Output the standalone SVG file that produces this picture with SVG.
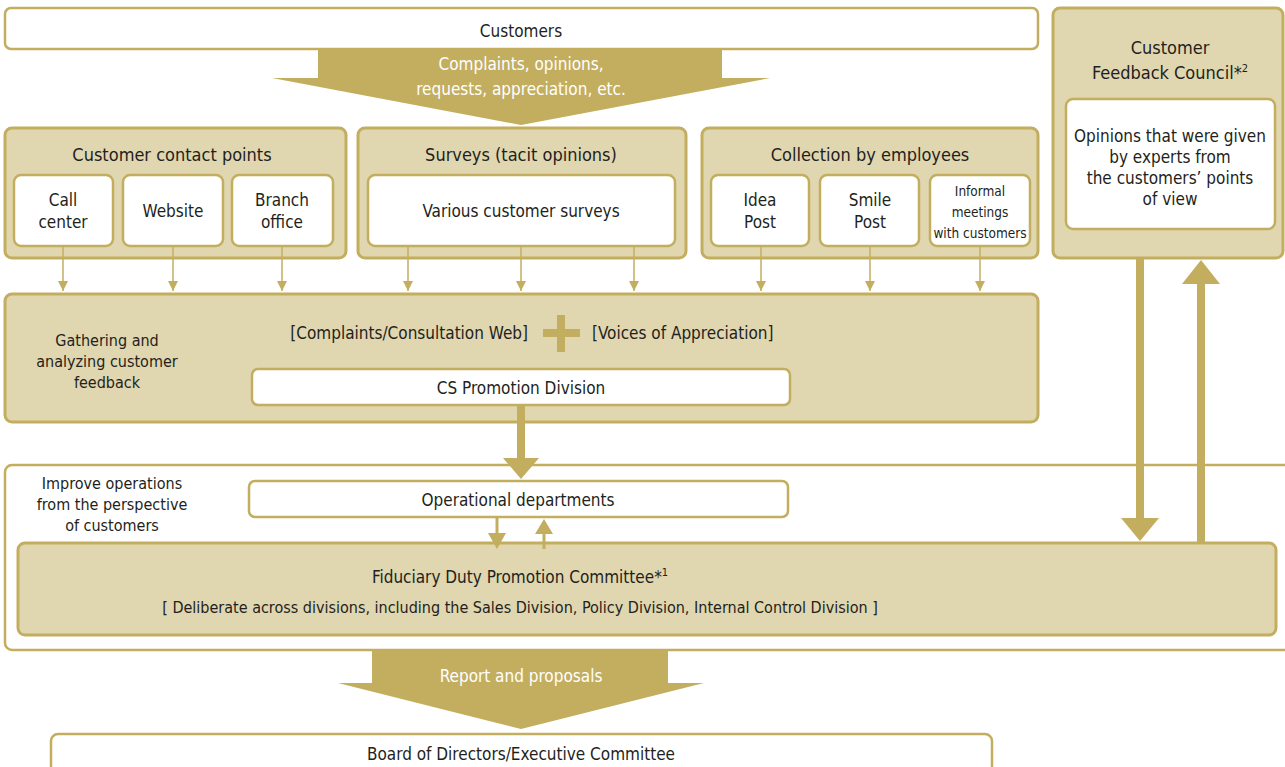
<svg xmlns="http://www.w3.org/2000/svg" width="1285" height="767" viewBox="0 0 1285 767">
  <defs>
    <style>
      text { font-family: "Liberation Sans Narrow", "DejaVu Sans Condensed", "Liberation Sans", sans-serif; fill: #231f20; text-anchor: middle; font-size: 17px; }
      .w { fill: #ffffff; }
      .sm { font-size: 13.5px; }
      .hd { font-size: 18px; }
      .note { font-size: 16px; }
      .box { fill: #ffffff; stroke: #c3ae5f; stroke-width: 2.5; }
      .grp { fill: #e0d6af; stroke: #c3ae5f; stroke-width: 3; }
      .gold { fill: #c3ae5f; }
      .thin { stroke: #c3ae5f; stroke-width: 1.5; fill: none; }
      .thick { stroke: #c3ae5f; stroke-width: 8; fill: none; }
    </style>
    <marker id="tri" viewBox="0 0 10 10" refX="10" refY="5" markerWidth="10" markerHeight="10" markerUnits="userSpaceOnUse" orient="auto">
      <path d="M0,0 L10,5 L0,10 z" fill="#c3ae5f"/>
    </marker>
  </defs>

  <!-- customers -->
  <g id="customers">
    <rect class="box" x="5" y="8" width="1033" height="41" rx="6"/>
    <text x="521" y="37">Customers</text>
  </g>

  <!-- council -->
  <g id="council">
    <rect class="grp" x="1053" y="8" width="230" height="250" rx="7"/>
    <text class="hd" x="1170" y="54">Customer</text>
    <text class="hd" x="1170" y="79">Feedback Council*<tspan font-size="11" dy="-7">2</tspan></text>
    <rect class="box" x="1066" y="99" width="209" height="130" rx="7"/>
    <text x="1170" y="142">Opinions that were given</text>
    <text x="1170" y="163">by experts from</text>
    <text x="1170" y="184">the customers’ points</text>
    <text x="1170" y="205">of view</text>
  </g>

  <!-- contact points -->
  <g id="contact-points">
    <rect class="grp" x="5" y="128" width="341" height="130" rx="7"/>
    <text class="hd" x="172" y="161">Customer contact points</text>
    <rect class="box" x="14" y="175" width="99" height="71" rx="7"/>
    <text x="63" y="206">Call</text>
    <text x="63" y="228">center</text>
    <rect class="box" x="123" y="175" width="100" height="71" rx="7"/>
    <text x="173" y="217">Website</text>
    <rect class="box" x="232" y="175" width="101" height="71" rx="7"/>
    <text x="282" y="206">Branch</text>
    <text x="282" y="228">office</text>
  </g>

  <!-- surveys -->
  <g id="surveys">
    <rect class="grp" x="358" y="128" width="328" height="130" rx="7"/>
    <text class="hd" x="521" y="161">Surveys (tacit opinions)</text>
    <rect class="box" x="368" y="175" width="307" height="71" rx="7"/>
    <text x="521" y="217">Various customer surveys</text>
  </g>

  <!-- employees -->
  <g id="employees">
    <rect class="grp" x="702" y="128" width="336" height="130" rx="7"/>
    <text class="hd" x="870" y="161">Collection by employees</text>
    <rect class="box" x="711" y="175" width="98" height="71" rx="7"/>
    <text x="760" y="206">Idea</text>
    <text x="760" y="228">Post</text>
    <rect class="box" x="820" y="175" width="99" height="71" rx="7"/>
    <text x="870" y="206">Smile</text>
    <text x="870" y="228">Post</text>
    <rect class="box" x="930" y="175" width="100" height="71" rx="7"/>
    <text class="sm" x="980" y="196">Informal</text>
    <text class="sm" x="980" y="217">meetings</text>
    <text class="sm" x="980" y="238">with customers</text>
  </g>

  <!-- gathering -->
  <g id="gathering">
    <rect class="grp" x="5" y="294" width="1033" height="128" rx="7"/>
    <text class="note" x="107" y="346">Gathering and</text>
    <text class="note" x="107" y="367">analyzing customer</text>
    <text class="note" x="107" y="388">feedback</text>
    <text x="528" y="339" style="text-anchor:end">[Complaints/Consultation Web]</text>
    <rect class="gold" x="543" y="329" width="37" height="8"/>
    <rect class="gold" x="557" y="315" width="8" height="37"/>
    <text x="592" y="339" style="text-anchor:start">[Voices of Appreciation]</text>
  </g>

  <g id="cs-promotion">
    <rect class="box" x="252" y="369" width="538" height="36" rx="6"/>
    <text x="521" y="394">CS Promotion Division</text>
  </g>

  <!-- improvement area -->
  <g id="improve">
    <rect class="box" x="5" y="465" width="1290" height="185" rx="7"/>
    <text class="note" x="112" y="489">Improve operations</text>
    <text class="note" x="112" y="510">from the perspective</text>
    <text class="note" x="112" y="531">of customers</text>
  </g>

  <g id="operational">
    <rect class="box" x="249" y="481" width="539" height="36" rx="6"/>
    <text x="518" y="506">Operational departments</text>
  </g>

  <g id="fiduciary">
    <rect class="grp" x="18" y="543" width="1258" height="92" rx="7"/>
    <text x="520" y="583">Fiduciary Duty Promotion Committee*<tspan font-size="11" dy="-7">1</tspan></text>
    <text class="note" x="520" y="613">[ Deliberate across divisions, including the Sales Division, Policy Division, Internal Control Division ]</text>
  </g>

  <g id="board">
    <rect class="box" x="51" y="734" width="941" height="50" rx="7"/>
    <text x="521" y="760">Board of Directors/Executive Committee</text>
  </g>

  <!-- connectors -->
  <g id="connectors">
    <!-- wide flow arrows -->
    <path class="gold" d="M318,50 H722 V78 H770 L521,125 L272,78 H318 Z"/>
    <text class="w" x="521" y="70">Complaints, opinions,</text>
    <text class="w" x="521" y="95">requests, appreciation, etc.</text>
    <path class="gold" d="M372,651 H668 V683 H704 L521,729 L338,683 H372 Z"/>
    <text class="w" x="521" y="682">Report and proposals</text>

    <!-- thin feed arrows -->
    <g class="thin" marker-end="url(#tri)">
      <line x1="63" y1="246" x2="63" y2="291"/>
      <line x1="173" y1="246" x2="173" y2="291"/>
      <line x1="282" y1="246" x2="282" y2="291"/>
      <line x1="408" y1="246" x2="408" y2="291"/>
      <line x1="521" y1="246" x2="521" y2="291"/>
      <line x1="634" y1="246" x2="634" y2="291"/>
      <line x1="761" y1="246" x2="761" y2="291"/>
      <line x1="870" y1="246" x2="870" y2="291"/>
      <line x1="980" y1="246" x2="980" y2="291"/>
    </g>

    <!-- CS division to operations -->
    <line class="thick" x1="521" y1="405" x2="521" y2="460"/>
    <path class="gold" d="M503,458 H539 L521,479 Z"/>

    <!-- operations and committee -->
    <line stroke="#c3ae5f" stroke-width="3" x1="497" y1="517" x2="497" y2="534"/>
    <path class="gold" d="M488,533 H506 L497,549 Z"/>
    <line stroke="#c3ae5f" stroke-width="3" x1="544" y1="549" x2="544" y2="532"/>
    <path class="gold" d="M535,534 H553 L544,519 Z"/>

    <!-- council and committee -->
    <line class="thick" x1="1140" y1="258" x2="1140" y2="520"/>
    <path class="gold" d="M1121,518 H1159 L1140,541 Z"/>
    <line class="thick" x1="1201" y1="543" x2="1201" y2="282"/>
    <path class="gold" d="M1182,284 H1220 L1201,260 Z"/>
  </g>
</svg>
